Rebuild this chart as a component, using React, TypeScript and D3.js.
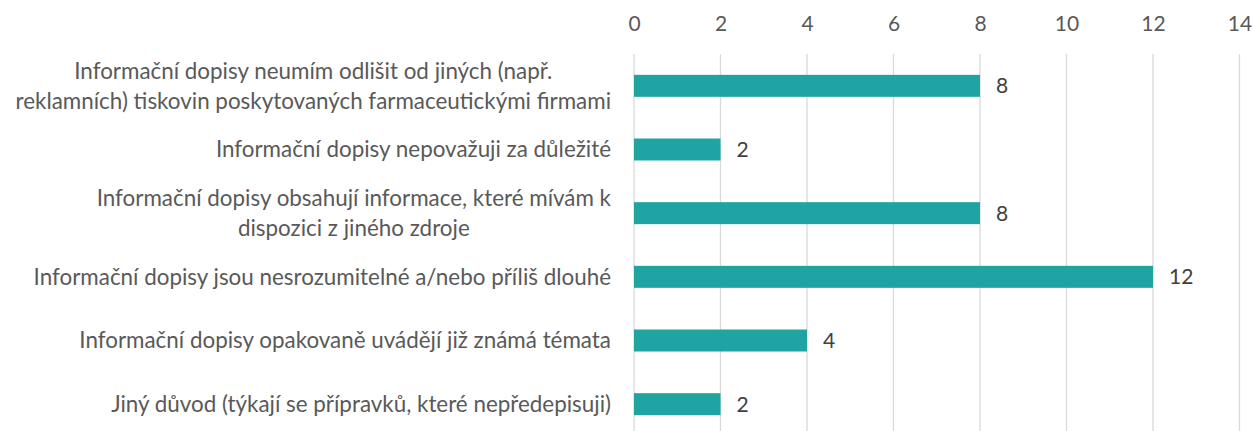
import React, { useRef, useEffect } from "react";
import * as d3 from "d3";

// kategorie (zalomení řádků podle originálu)
const categories: string[][] = [
  [
    "Informační dopisy neumím odlišit od jiných (např.",
    "reklamních) tiskovin poskytovaných farmaceutickými firmami",
  ],
  ["Informační dopisy nepovažuji za důležité"],
  [
    "Informační dopisy obsahují informace, které mívám k",
    "dispozici z jiného zdroje",
  ],
  ["Informační dopisy jsou nesrozumitelné a/nebo příliš dlouhé"],
  ["Informační dopisy opakovaně uvádějí již známá témata"],
  ["Jiný důvod (týkají se přípravků, které nepředepisuji)"],
];
const values: number[] = [8, 2, 8, 12, 4, 2];
const tickValues: number[] = [0, 2, 4, 6, 8, 10, 12, 14];

const App: React.FC = () => {
  const svgRef = useRef<SVGSVGElement>(null);

  useEffect(() => {
    if (!svgRef.current) return;

    const width = 1253;
    const height = 431;
    const font = "Lato, 'Open Sans', sans-serif";
    const textColor = "#595959";

    const svg = d3
      .select(svgRef.current)
      .attr("width", width)
      .attr("height", height);
    svg.selectAll("*").remove();

    const ids = categories.map((_, i) => String(i));

    const xScale = d3.scaleLinear().domain([0, 14]).range([634, 1239.5]);
    const yScale = d3
      .scaleBand()
      .domain(ids)
      .range([54, 436])
      .paddingInner(0.6545)
      .paddingOuter(0.32725);

    // mřížka
    svg
      .append("g")
      .selectAll("line")
      .data(tickValues)
      .enter()
      .append("line")
      .attr("x1", (d) => xScale(d))
      .attr("x2", (d) => xScale(d))
      .attr("y1", 54)
      .attr("y2", height)
      .attr("stroke", "#d9d9d9")
      .attr("stroke-width", 1.3);

    // osa X nahoře
    const xAxis = d3
      .axisTop(xScale)
      .tickValues(tickValues)
      .tickSize(0)
      .tickPadding(0);
    const axisG = svg
      .append("g")
      .attr("transform", "translate(0,31)")
      .call(xAxis);
    axisG.select(".domain").remove();
    axisG
      .selectAll("text")
      .attr("font-family", font)
      .attr("font-size", 21)
      .attr("fill", textColor);

    // sloupce
    svg
      .append("g")
      .selectAll("rect")
      .data(values)
      .enter()
      .append("rect")
      .attr("x", xScale(0))
      .attr("y", (_, i) => yScale(ids[i]) ?? 0)
      .attr("width", (d) => xScale(d) - xScale(0))
      .attr("height", yScale.bandwidth())
      .attr("fill", "#1FA3A3");

    // hodnoty
    svg
      .append("g")
      .selectAll("text")
      .data(values)
      .enter()
      .append("text")
      .attr("x", (d) => xScale(d) + 16)
      .attr("y", (_, i) => (yScale(ids[i]) ?? 0) + yScale.bandwidth() / 2)
      .attr("dy", "0.35em")
      .attr("font-family", font)
      .attr("font-size", 21)
      .attr("fill", "#404040")
      .text((d) => d);

    // popisky kategorií - vycentrovaný blok zarovnaný vpravo
    const labelRight = 611;
    const lineHeight = 30;
    const labels = svg.append("g");
    categories.forEach((lines, i) => {
      const cy = (yScale(ids[i]) ?? 0) + yScale.bandwidth() / 2;
      const g = labels.append("g");
      const texts = lines.map((line, j) =>
        g
          .append("text")
          .attr("y", cy + (j - (lines.length - 1) / 2) * lineHeight)
          .attr("dy", "0.35em")
          .attr("text-anchor", "middle")
          .attr("font-family", font)
          .attr("font-size", 22.4)
          .attr("fill", textColor)
          .text(line)
      );
      const maxW = d3.max(texts, (t) => (t.node() as SVGTextElement).getComputedTextLength()) ?? 0;
      texts.forEach((t) => t.attr("x", labelRight - maxW / 2));
    });
  }, []);

  return (
    <svg
      ref={svgRef}
      style={{ position: "absolute", left: 0, top: 0, background: "#fff" }}
    ></svg>
  );
};

export default App;
